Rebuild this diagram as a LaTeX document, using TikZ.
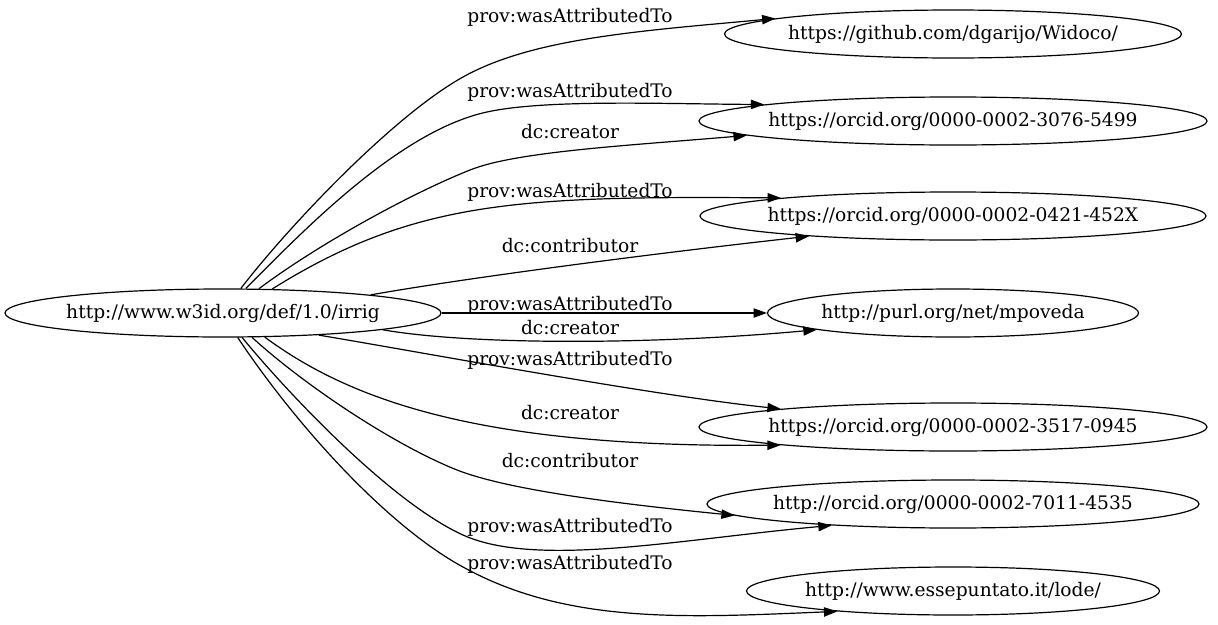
\documentclass[tikz,border=0pt]{standalone}
\usepackage{fontspec}
\setmainfont{DejaVu Serif}
\usetikzlibrary{arrows.meta,shapes.geometric}
\begin{document}
\begin{tikzpicture}[x=0.75pt,y=-0.75pt,
  every node/.style={font=\fontsize{14}{16}\selectfont},
  ell/.style={draw, ellipse, inner sep=0pt, minimum height=36pt, line width=0.9pt, text height=11.2pt, text depth=3pt},
  lbl/.style={anchor=base, inner sep=0pt},
  edge/.style={line width=0.9pt, -{Triangle[length=10pt,width=7pt]}}]
\useasboundingbox (0,0) rectangle (1218,625);
% nodes
\node[ell, minimum width=327pt] (src) at (223,313) {\makebox[0pt]{http://www.w3id.org/def/1.0/irrig}};
\node[ell, minimum width=342.75pt] (widoco) at (953,34) {\makebox[0pt]{https://github.com/dgarijo/Widoco/}};
\node[ell, minimum width=381pt] (oa) at (953,121) {\makebox[0pt]{https://orcid.org/0000-0002-3076-5499}};
\node[ell, minimum width=379.5pt] (ob) at (953,216) {\makebox[0pt]{https://orcid.org/0000-0002-0421-452X}};
\node[ell, minimum width=278.25pt] (purl) at (953,313) {\makebox[0pt]{http://purl.org/net/mpoveda}};
\node[ell, minimum width=381pt] (oc) at (953,427) {\makebox[0pt]{https://orcid.org/0000-0002-3517-0945}};
\node[ell, minimum width=369pt] (od) at (953,504) {\makebox[0pt]{http://orcid.org/0000-0002-7011-4535}};
\node[ell, minimum width=309.75pt] (lode) at (953,591) {\makebox[0pt]{http://www.essepuntato.it/lode/}};
% labels
\node[lbl] (l1) at (570,22) {prov:wasAttributedTo};
\node[lbl] (l2) at (570,97) {prov:wasAttributedTo};
\node[lbl] (l3) at (570,138) {dc:creator};
\node[lbl] (l4) at (570,197) {prov:wasAttributedTo};
\node[lbl] (l5) at (570,252) {dc:contributor};
\node[lbl] (l6) at (570,310) {prov:wasAttributedTo};
\node[lbl] (l7) at (570,334) {dc:creator};
\node[lbl] (l8) at (570,365) {prov:wasAttributedTo};
\node[lbl] (l9) at (570,419) {dc:creator};
\node[lbl] (l10) at (570,467) {dc:contributor};
\node[lbl] (l11) at (570,532) {prov:wasAttributedTo};
\node[lbl] (l12) at (570,569) {prov:wasAttributedTo};
% edges
\draw[edge] (src.54.7) .. controls (289,226) and (393,116) .. (463,77) .. controls (533,38) and (640,31) .. (widoco.175.6);
\draw[edge] (src.47.5) .. controls (302,232) and (399,131) .. (487,112) .. controls (546,99) and (667,104) .. (oa.175);
\draw[edge] (src.34.9) .. controls (313,248) and (405,196) .. (470,170) .. controls (516,151.5) and (627.5,145.6) .. (oa.-176);
\draw[edge] (src.26.5) .. controls (414.5,200) and (520,196) .. (ob.174.8);
\draw[edge] (src.7.5) .. controls (460,279) and (640,255) .. (ob.-172.3);
\draw[edge] (src.east) -- (purl.west);
\draw[edge] (src.-6.6) .. controls (470,345) and (650,345) .. (purl.-173.5);
\draw[edge] (src.-13.8) .. controls (420,352) and (650,395) .. (oc.174.3);
\draw[edge] (src.-30) .. controls (350,400) and (480,448) .. (oc.-174.7);
\draw[edge] (src.-40.3) .. controls (303,384) and (392,444) .. (457,470) .. controls (513,492) and (641,506) .. (od.-177.7);
\draw[edge] (src.-52.3) .. controls (286,391) and (390,502) .. (463,535) .. controls (536,568) and (678,539.5) .. (od.-170.7);
\draw[edge] (src.-59.7) .. controls (292.5,420) and (384,524) .. (463,567) .. controls (568,625) and (688,617.5) .. (lode.-170.2);
\end{tikzpicture}
\end{document}
